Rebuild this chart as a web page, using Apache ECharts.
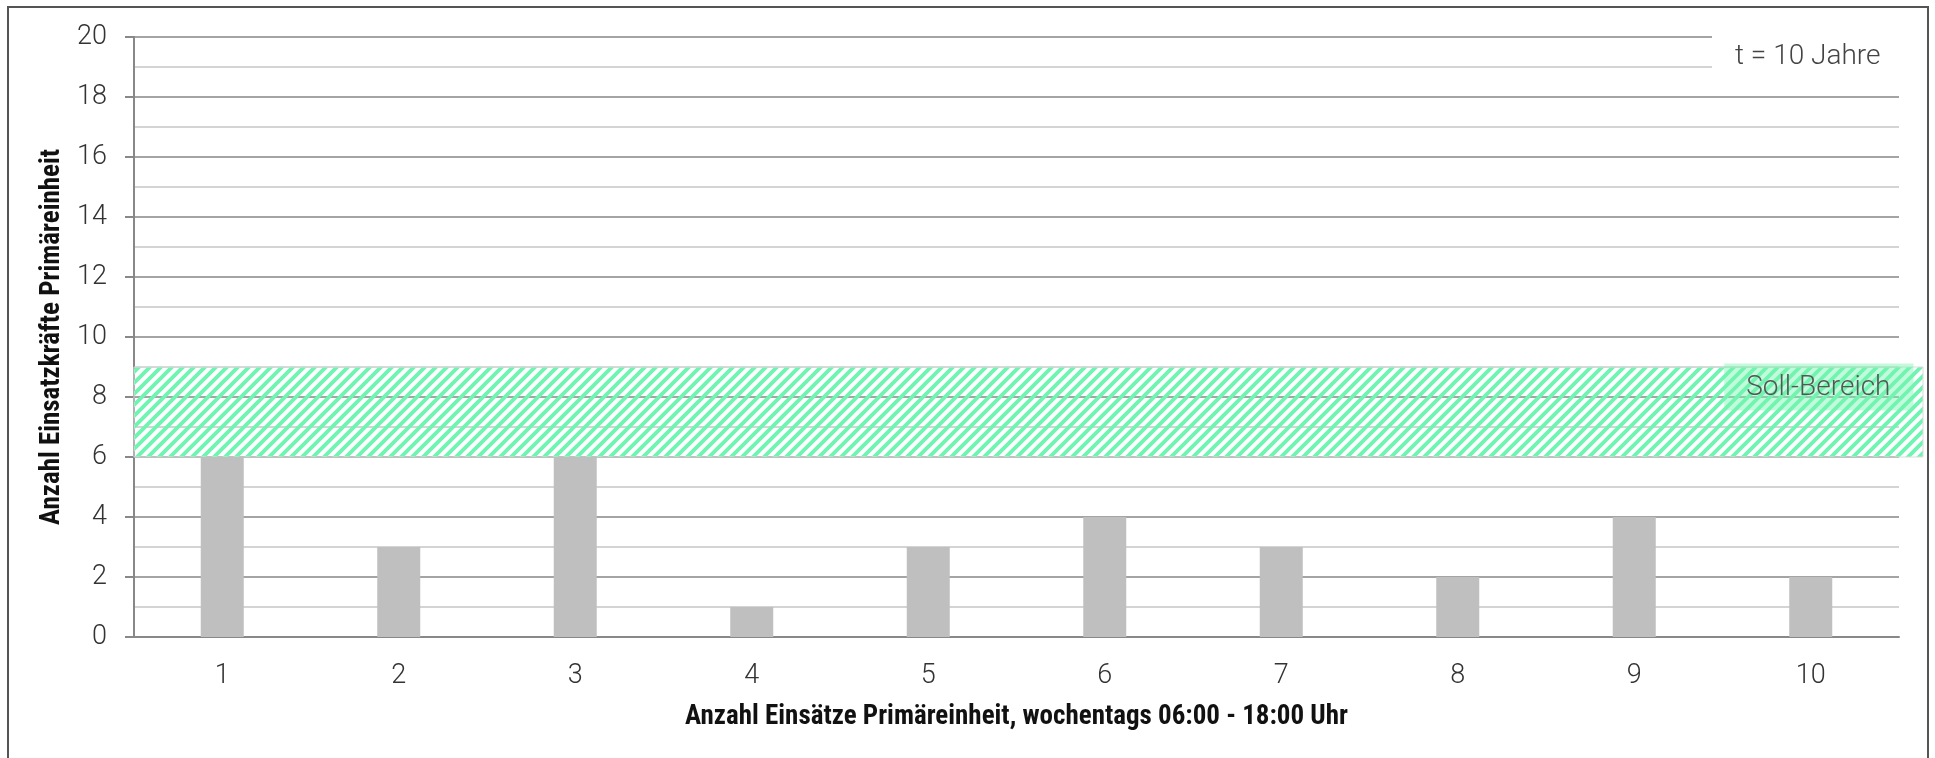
<!DOCTYPE html>
<html>
<head>
    <meta charset="utf-8">
    <title>Einsatzkräfte Primäreinheit</title>
    <script src="https://cdn.jsdelivr.net/npm/echarts@6/dist/echarts.min.js"></script>
    <style type="text/css">
        html, body { margin: 0; padding: 0; background: #fff; }
        #main { width: 1935px; height: 758px; }
    </style>
</head>
<body>
<div id="main"></div>
<script type="text/javascript">
    // Daten
    var categories = ['1', '2', '3', '4', '5', '6', '7', '8', '9', '10'];
    var einsatzkraefte = [6, 3, 6, 1, 3, 4, 3, 2, 4, 2];
    var sollBereich = [6, 9];   // von - bis
    var yTicks = {min: 0, max: 20, interval: 2};

    var thinFont = 'Roboto, "Open Sans", sans-serif';
    var boldFont = '"Liberation Sans Narrow", "Roboto Condensed", Roboto, sans-serif';

    // Schraffur fuer Soll-Bereich
    function hatch() {
        var c = document.createElement('canvas');
        c.width = 11;
        c.height = 11;
        var ctx = c.getContext('2d');
        ctx.strokeStyle = '#6ef5b2';
        ctx.lineWidth = 3.8;
        ctx.beginPath();
        ctx.moveTo(-2, 13); ctx.lineTo(13, -2);
        ctx.moveTo(-2, 2); ctx.lineTo(2, -2);
        ctx.moveTo(9, 13); ctx.lineTo(13, 9);
        ctx.stroke();
        return c;
    }

    var chart = echarts.init(document.getElementById('main'));
    chart.setOption({
        animation: false,
        title: {
            text: 't = 10 Jahre',
            left: 1712,
            top: 33,
            backgroundColor: '#fff',
            padding: [10, 60, 10, 23],
            textStyle: {fontFamily: thinFont, fontWeight: 300, fontSize: 28, color: '#444'}
        },
        grid: {left: 134, right: 36, top: 37, bottom: 121},
        xAxis: {
            type: 'category',
            data: categories,
            axisLine: {lineStyle: {color: '#888', width: 2}},
            axisTick: {show: false},
            axisLabel: {margin: 26, fontFamily: thinFont, fontWeight: 300, fontSize: 27, color: '#333'},
            name: 'Anzahl Einsätze Primäreinheit, wochentags 06:00 - 18:00 Uhr',
            nameLocation: 'middle',
            nameGap: 67,
            nameTextStyle: {fontFamily: boldFont, fontWeight: 'bold', fontSize: 27, color: '#111'}
        },
        yAxis: {
            type: 'value',
            min: yTicks.min,
            max: yTicks.max,
            interval: yTicks.interval,
            axisLine: {show: true, lineStyle: {color: '#888', width: 2}},
            axisTick: {show: true, length: 9, lineStyle: {color: '#888', width: 2}},
            axisLabel: {margin: 27, fontFamily: thinFont, fontWeight: 300, fontSize: 27, color: '#333'},
            splitLine: {lineStyle: {color: '#868686', width: 1.5}},
            minorTick: {show: false, splitNumber: 2},
            minorSplitLine: {show: true, lineStyle: {color: '#c6c6c6', width: 1.5}},
            name: 'Anzahl Einsatzkräfte Primäreinheit',
            nameLocation: 'middle',
            nameGap: 59,
            nameTextStyle: {fontFamily: boldFont, fontWeight: 'bold', fontSize: 27, color: '#111'}
        },
        series: [{
            type: 'bar',
            name: 'Einsatzkräfte',
            data: einsatzkraefte,
            barWidth: 43,
            itemStyle: {color: '#bfbfbf'}
        }],
        graphic: [{
            type: 'rect',
            z: 100,
            shape: {x: 8, y: 7, width: 1920, height: 800},
            style: {fill: 'none', stroke: '#555', lineWidth: 2}
        }]
    });

    // Soll-Bereich ueber die Achse in Pixel umrechnen, rechts etwas ueber das Raster hinaus
    var yTop = chart.convertToPixel({yAxisIndex: 0}, sollBereich[1]);
    var yBottom = chart.convertToPixel({yAxisIndex: 0}, sollBereich[0]);
    chart.setOption({
        series: [{
            markArea: {
                silent: true,
                itemStyle: {
                    color: {image: hatch(), repeat: 'repeat'},
                    borderColor: '#dcdcdc',
                    borderWidth: 1
                },
                label: {
                    show: true,
                    position: 'insideTopRight',
                    distance: 0,
                    offset: [-10, -3],
                    backgroundColor: 'rgba(120, 245, 175, 0.45)',
                    padding: [10, 23, 9, 22],
                    fontFamily: thinFont,
                    fontWeight: 300,
                    fontSize: 28,
                    color: '#555'
                },
                data: [[{name: 'Soll-Bereich', x: 134, y: yTop}, {x: 1923, y: yBottom}]]
            }
        }]
    });
</script>
</body>
</html>
